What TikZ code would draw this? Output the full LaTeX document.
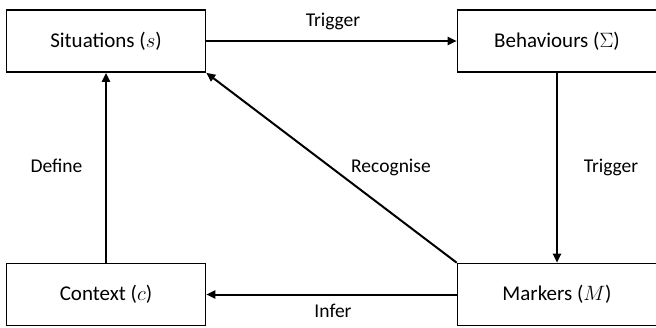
\documentclass[tikz,border=0pt]{standalone}
\usepackage{fontspec}
\setmainfont{Carlito}
\usetikzlibrary{arrows.meta}
\begin{document}
\begin{tikzpicture}[x=1pt,y=-1pt,
  box/.style={draw,line width=1.6pt,minimum width=199pt,minimum height=62pt,inner sep=0pt,font=\fontsize{21}{24}\selectfont},
  conn/.style={line width=2pt,-{Triangle[length=9pt,width=8pt]}},
  lbl/.style={anchor=base,inner sep=0pt,font=\fontsize{19.5}{22}\selectfont}]
\useasboundingbox (0,0) rectangle (656,327);
\node[box] (sit) at (106,41) {Situations ($s$)};
\node[box] (beh) at (557,41) {Behaviours ($\Sigma$)};
\node[box] (ctx) at (106,294.5) {Context ($c$)};
\node[box] (mrk) at (557,294.5) {Markers ($M$)};
\draw[conn] (sit.east) -- (beh.west);
\draw[conn] (beh.south) -- (mrk.north);
\draw[conn] (mrk.west) -- (ctx.east);
\draw[conn] (ctx.north) -- (sit.south);
\draw[conn] (mrk.north west) -- (sit.south east);
\node[lbl] (t1) at (333,26) {Trigger};
\node[lbl] (t2) at (611,172.7) {Trigger};
\node[lbl] (rc) at (391,172.7) {Recognise};
\node[lbl] (df) at (56.5,172.7) {Define};
\node[lbl] (inf) at (333,317) {Infer};
\end{tikzpicture}
\end{document}
